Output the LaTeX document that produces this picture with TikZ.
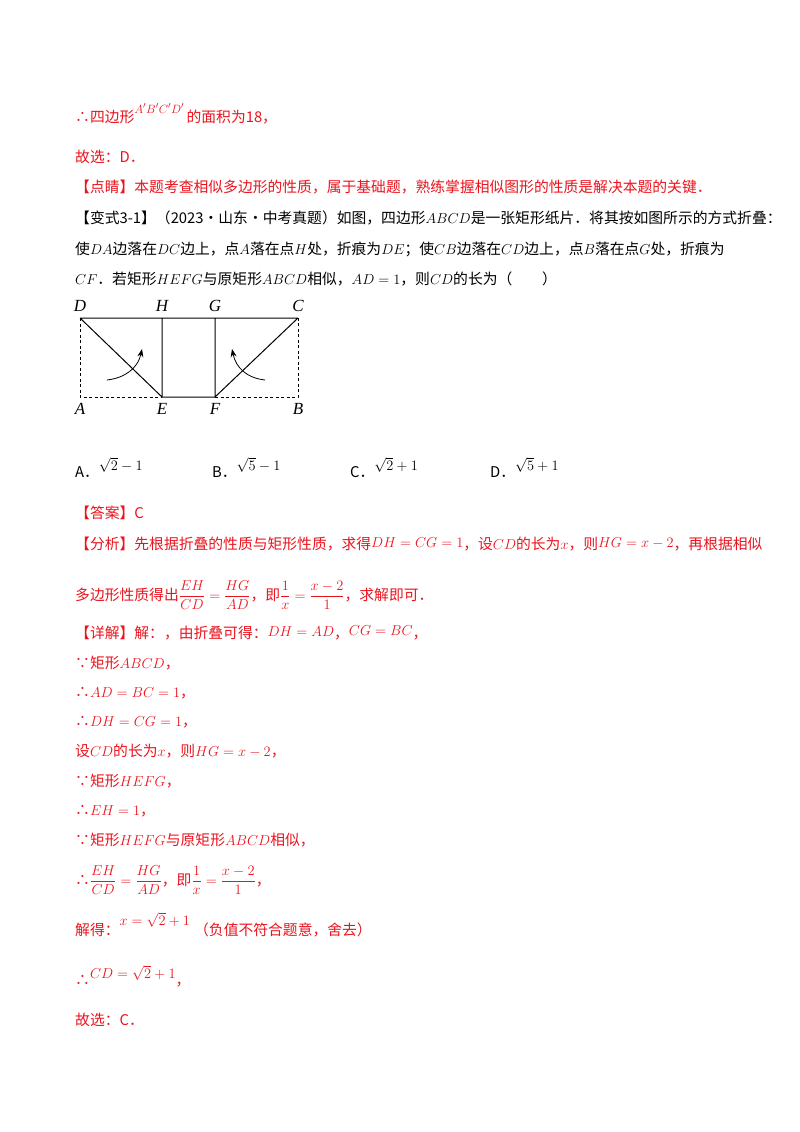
\documentclass[tikz,border=0pt]{standalone}
\usepackage{amsmath}
\usepackage{fontspec}
\usetikzlibrary{arrows.meta}
\setmainfont{Liberation Serif}
\newfontfamily\cjk{Noto Sans CJK SC}
\definecolor{rd}{RGB}{235,20,30}
\begin{document}
\begin{tikzpicture}[x=1pt,y=-1pt,
  tl/.style={anchor=base west,inner sep=0pt,font=\fontsize{14.8}{16}\selectfont\cjk},
  rl/.style={tl,text=rd},
  lab/.style={font=\fontsize{17}{18}\selectfont\itshape,inner sep=0pt},
  seg/.style={line width=1pt},
  dsh/.style={line width=0.8pt,dash pattern=on 3pt off 2.5pt}]
\useasboundingbox[fill=white] (0,0) rectangle (800,1132);
\node[rl] (l1) at (75,122) {∴四边形\raisebox{9pt}{\fontsize{12.5}{13}\selectfont$A'B'C'D'$}\,的面积为18，};
\node[rl] (l2) at (75,162) {故选：D．};
\node[rl] (l3) at (75,192) {【点睛】本题考查相似多边形的性质，属于基础题，熟练掌握相似图形的性质是解决本题的关键．};
\node[tl] (l4) at (75,223) {【变式3-1】（2023·山东·中考真题）如图，四边形$ABCD$是一张矩形纸片．将其按如图所示的方式折叠：};
\node[tl] (l5) at (75,254) {使$DA$边落在$DC$边上，点$A$落在点$H$处，折痕为$DE$；使$CB$边落在$CD$边上，点$B$落在点$G$处，折痕为};
\node[tl] (l6) at (75,284) {$CF$．若矩形$HEFG$与原矩形$ABCD$相似，$AD=1$，则$CD$的长为（\qquad）};
% diagram
\coordinate (D) at (80,318); \coordinate (H) at (162,318); \coordinate (G) at (215,318); \coordinate (C) at (298,318);
\coordinate (A) at (80,397); \coordinate (E) at (162,397); \coordinate (F) at (215,397); \coordinate (B) at (298,397);
\draw[seg] (D) -- (C) (D) -- (E) -- (F) -- (C) (H) -- (E) (G) -- (F);
\draw[dsh] (D) -- (A) -- (E) (F) -- (B) -- (C);
\draw[line width=0.8pt,-{Stealth[length=8pt,width=6pt]}] (107,380) .. controls (125,378) and (138,368) .. (142,349);
\draw[line width=0.8pt,-{Stealth[length=8pt,width=6pt]}] (265,380) .. controls (247,378) and (236,368) .. (232,349);
\node[lab] (nD) at (80,306) {D}; \node[lab] (nH) at (162,306) {H}; \node[lab] (nG) at (215,306) {G}; \node[lab] (nC) at (298,306) {C};
\node[lab] (nA) at (80,409) {A}; \node[lab] (nE) at (162,409) {E}; \node[lab] (nF) at (215,409) {F}; \node[lab] (nB) at (298,409) {B};
% options
\node[tl] (oA) at (75,477) {A．\raisebox{7pt}{$\sqrt2-1$}};
\node[tl] (oB) at (212,477) {B．\raisebox{7pt}{$\sqrt5-1$}};
\node[tl] (oC) at (350,477) {C．\raisebox{7pt}{$\sqrt2+1$}};
\node[tl] (oD) at (490,477) {D．\raisebox{7pt}{$\sqrt5+1$}};
\node[rl] (ans) at (75,518) {【答案】C};
\node[rl] (an1) at (75,549) {【分析】先根据折叠的性质与矩形性质，求得\raisebox{2pt}{$DH=CG=1$}，设$CD$的长为$x$，则\raisebox{2pt}{$HG=x-2$}，再根据相似};
\node[rl] (an2) at (75,600) {多边形性质得出$\dfrac{EH}{CD}=\dfrac{HG}{AD}$，即$\dfrac{1}{x}=\dfrac{x-2}{1}$，求解即可．};
\node[rl] (d0) at (75,638) {【详解】解：，由折叠可得：\raisebox{2pt}{$DH=AD$}，\raisebox{3pt}{$CG=BC$}，};
\node[rl] (d1) at (75,668) {∵矩形$ABCD$，};
\node[rl] (d2) at (75,697) {∴$AD=BC=1$，};
\node[rl] (d3) at (75,726) {∴$DH=CG=1$，};
\node[rl] (d4) at (75,756) {设$CD$的长为$x$，则$HG=x-2$，};
\node[rl] (d5) at (75,786) {∵矩形$HEFG$，};
\node[rl] (d6) at (75,815) {∴$EH=1$，};
\node[rl] (d7) at (75,845) {∵矩形$HEFG$与原矩形$ABCD$相似，};
\node[rl] (d8) at (75,885) {∴$\dfrac{EH}{CD}=\dfrac{HG}{AD}$，即$\dfrac{1}{x}=\dfrac{x-2}{1}$，};
\node[rl] (d9) at (75,935) {解得：\raisebox{10pt}{$x=\sqrt2+1$}\;（负值不符合题意，舍去）};
\node[rl] (d10) at (75,985) {∴\raisebox{7pt}{$CD=\sqrt2+1$}，};
\node[rl] (d11) at (75,1025) {故选：C．};
\end{tikzpicture}
\end{document}
